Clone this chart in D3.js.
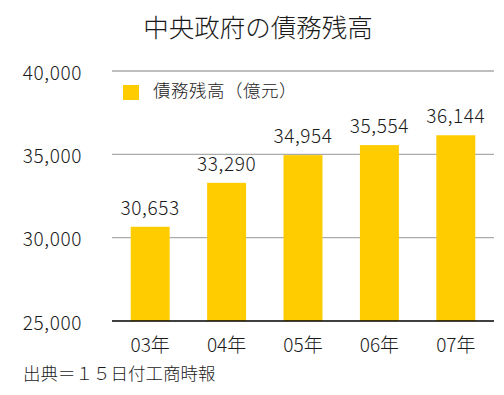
<!DOCTYPE html>
<html><head><meta charset="utf-8">
<script src="https://cdn.jsdelivr.net/npm/d3@7"></script>
<style>body{margin:0;background:#fff}svg{display:block}text{font-family:"Noto Sans CJK JP","Noto Sans",sans-serif;font-weight:300;fill:#1a1a1a}</style>
</head><body><svg id="c" width="504" height="395"></svg>
<script>
const categories = ["03年","04年","05年","06年","07年"];
const values = [30653, 33290, 34954, 35554, 36144];
const yTicks = [25000, 30000, 35000, 40000];
const title = "中央政府の債務残高";
const seriesName = "債務残高（億元）";
const source = "出典＝１５日付工商時報";

const svg = d3.select("#c");
const W = 504, H = 395;
const m = {left:112, right:10, top:71, bottom:74};
const x = d3.scaleBand().domain(categories).range([m.left, W - m.right]).paddingInner(0.49).paddingOuter(0.245);
const y = d3.scaleLinear().domain([25000, 40000]).range([H - m.bottom, m.top]);
const fmt = d3.format(",");

svg.append("text").attr("x", 258).attr("y", 37).attr("text-anchor","middle").attr("font-size",25.5).text(title);

// grid
svg.append("g").selectAll("line").data(yTicks.slice(1)).join("line")
  .attr("x1", m.left).attr("x2", W - m.right)
  .attr("y1", d => y(d)).attr("y2", d => y(d))
  .attr("stroke", "#aaa").attr("stroke-width", 1.3);

// y labels
svg.append("g").selectAll("text").data(yTicks).join("text")
  .attr("x", 82).attr("y", d => y(d) + 8.5).attr("text-anchor","end")
  .attr("font-size", 19).attr("letter-spacing", 0.6).text(d => fmt(d));

// bars
svg.append("g").selectAll("rect").data(values).join("rect")
  .attr("x", (d,i) => x(categories[i])).attr("width", x.bandwidth())
  .attr("y", d => y(d)).attr("height", d => y(25000) - y(d))
  .attr("fill", "#FFCC00");

// baseline
svg.append("line").attr("x1", m.left).attr("x2", W - m.right)
  .attr("y1", y(25000)).attr("y2", y(25000)).attr("stroke","#000").attr("stroke-width",1.6);

// value labels
svg.append("g").selectAll("text").data(values).join("text")
  .attr("x", (d,i) => x(categories[i]) + x.bandwidth()/2).attr("y", d => y(d) - 12)
  .attr("text-anchor","middle").attr("font-size",19).attr("letter-spacing", 0.6).text(d => fmt(d));

// x labels
svg.append("g").selectAll("text").data(categories).join("text")
  .attr("x", d => x(d) + x.bandwidth()/2).attr("y", y(25000) + 31)
  .attr("text-anchor","middle").attr("font-size",19).text(d => d);

// legend
svg.append("rect").attr("x",123).attr("y",85).attr("width",16).attr("height",15).attr("fill","#FFCC00");
svg.append("text").attr("x",153).attr("y",97).attr("font-size",17.5).attr("letter-spacing",0.5).text(seriesName);

// source
svg.append("text").attr("x",23).attr("y",380).attr("font-size",17.5).text(source);
</script></body></html>
